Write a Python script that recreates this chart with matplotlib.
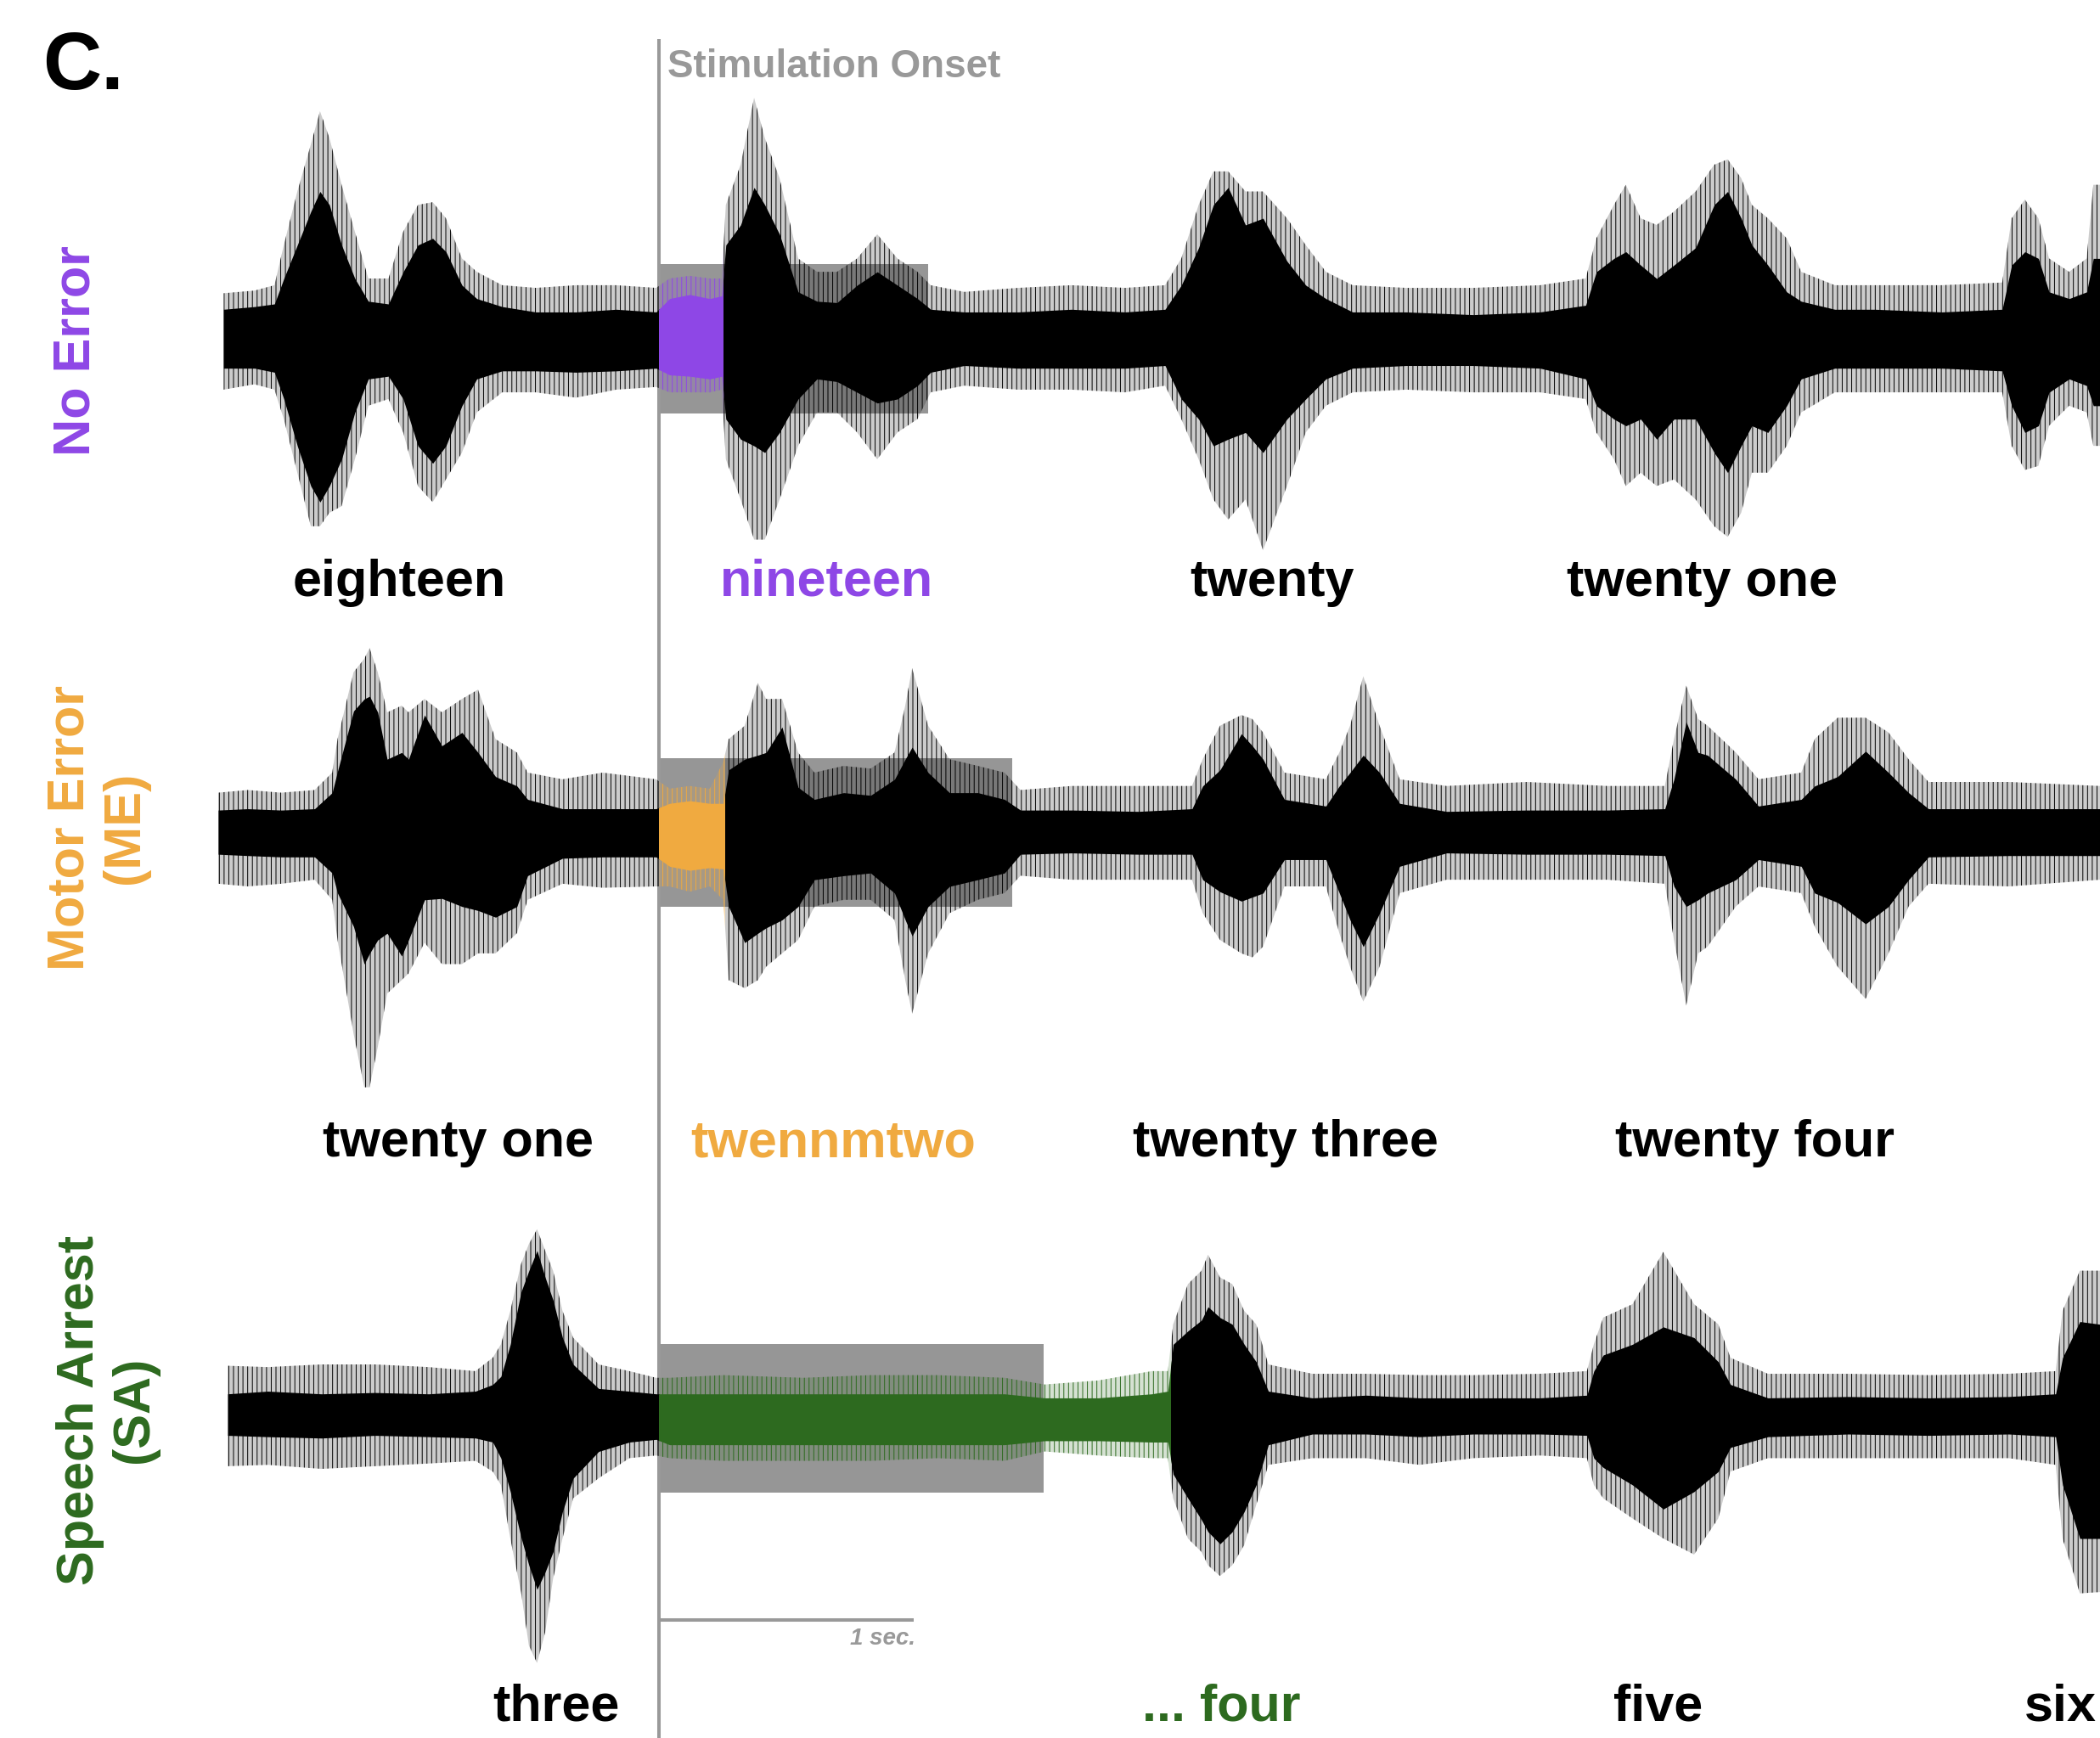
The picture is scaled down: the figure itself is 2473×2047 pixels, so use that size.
import matplotlib.pyplot as plt
from matplotlib.patches import Rectangle
from matplotlib.colors import to_rgba
import numpy as np

plt.rcParams['font.family'] = ['Liberation Sans', 'DejaVu Sans']
plt.rcParams['hatch.linewidth'] = 0.7

# ---- data: envelopes (time in s from stimulation onset,
# amplitude in a.u.; core = dense part, pk = thin peaks) ----

# No Error
ne_t = [-1.711, -1.589, -1.511, -1.474, -1.421, -1.368, -1.332, -1.295, -1.247, -1.195,
        -1.142, -1.063, -1.005, -0.947, -0.889, -0.837, -0.774, -0.716, -0.616, -0.484,
        -0.326, -0.168, -0.011, 0.042, 0.121, 0.200, 0.247, 0.263, 0.321, 0.374,
        0.416, 0.474, 0.547, 0.621, 0.700, 0.779, 0.858, 0.937, 1.016, 1.068,
        1.200, 1.411, 1.621, 1.832, 1.989, 2.053, 2.121, 2.179, 2.237, 2.305,
        2.374, 2.468, 2.542, 2.621, 2.726, 2.937, 3.200, 3.463, 3.642, 3.684,
        3.753, 3.800, 3.858, 3.921, 3.989, 4.074, 4.147, 4.200, 4.253, 4.295,
        4.358, 4.432, 4.489, 4.621, 4.779, 5.042, 5.279, 5.316, 5.368, 5.421,
        5.463, 5.542, 5.611, 5.637, 5.663]
ne_up = [.22, .24, .26, .45, .70, .95, 1.10, 1.00, .70, .45,
         .28, .26, .50, .70, .75, .65, .40, .30, .24, .20,
         .20, .22, .20, .30, .33, .30, .32, .70, .85, 1.13,
         1.00, .78, .35, .28, .27, .40, .50, .40, .30, .22,
         .20, .20, .22, .20, .22, .40, .68, 1.00, 1.13, .85,
         .90, .58, .40, .30, .20, .20, .18, .20, .25, .50,
         .60, .65, .55, .45, .55, .68, 1.00, 1.10, .90, .70,
         .55, .35, .28, .22, .22, .20, .22, .55, .65, .60,
         .35, .30, .35, .60, .60]
ne_dn = [.22, .22, .25, .45, .80, 1.10, 1.22, 1.10, .90, .55,
         .30, .28, .45, .80, .93, .80, .50, .30, .24, .24,
         .25, .24, .22, .27, .28, .30, .28, .60, .75, .80,
         .85, .70, .45, .30, .32, .40, .48, .45, .35, .25,
         .20, .22, .22, .22, .20, .45, .60, .80, .75, .70,
         .85, .60, .45, .30, .22, .20, .20, .22, .30, .50,
         .60, .65, .60, .75, .60, .60, .85, 1.00, .80, .65,
         .70, .50, .30, .22, .22, .22, .24, .50, .70, .65,
         .40, .30, .35, .50, .50]
ne_pk_up = [.34, .36, .40, .70, 1.10, 1.45, 1.70, 1.50, 1.15, .80,
            .45, .45, .80, 1.00, 1.02, .90, .60, .50, .40, .38,
            .40, .40, .38, .45, .47, .45, .45, 1.00, 1.30, 1.80,
            1.50, 1.20, .60, .50, .50, .60, .78, .60, .50, .40,
            .35, .38, .40, .38, .40, .60, 1.00, 1.25, 1.25, 1.10,
            1.10, .90, .70, .50, .40, .38, .38, .40, .45, .75,
            1.00, 1.15, .90, .85, .95, 1.10, 1.30, 1.34, 1.20, 1.00,
            .90, .75, .50, .40, .40, .40, .42, .90, 1.04, .90,
            .60, .50, .60, 1.15, 1.15]
ne_pk_dn = [.38, .34, .38, .60, 1.00, 1.40, 1.40, 1.30, 1.25, .90,
            .50, .45, .70, 1.10, 1.22, 1.05, .85, .55, .40, .40,
            .44, .38, .36, .40, .40, .40, .38, .90, 1.20, 1.50,
            1.50, 1.20, .80, .55, .55, .70, .90, .70, .60, .40,
            .35, .38, .38, .40, .35, .60, .90, 1.20, 1.35, 1.20,
            1.58, 1.10, .70, .50, .40, .38, .40, .40, .45, .70,
            .90, 1.10, 1.00, 1.10, 1.05, 1.20, 1.40, 1.48, 1.30, 1.00,
            1.00, .80, .55, .40, .40, .40, .40, .80, .98, .95,
            .65, .50, .55, .80, .80]

# Motor Error (ME)
me_t = [-1.732, -1.616, -1.484, -1.353, -1.284, -1.263, -1.200, -1.158, -1.137, -1.105,
        -1.068, -1.011, -0.984, -0.921, -0.853, -0.774, -0.711, -0.642, -0.558, -0.516,
        -0.379, -0.221, -0.011, 0.042, 0.121, 0.200, 0.253, 0.274, 0.337, 0.389,
        0.421, 0.484, 0.547, 0.611, 0.726, 0.832, 0.926, 0.968, 0.995, 1.058,
        1.142, 1.253, 1.358, 1.421, 1.621, 1.884, 2.095, 2.137, 2.205, 2.289,
        2.332, 2.374, 2.458, 2.621, 2.674, 2.716, 2.768, 2.832, 2.911, 3.095,
        3.411, 3.726, 3.953, 3.989, 4.037, 4.084, 4.121, 4.232, 4.321, 4.489,
        4.542, 4.632, 4.742, 4.832, 4.911, 4.989, 5.305, 5.663]
me_up = [.17, .18, .17, .18, .30, .46, .91, 1.00, 1.02, .90,
         .55, .60, .55, .88, .65, .75, .60, .42, .35, .25,
         .18, .18, .18, .22, .24, .22, .22, .47, .55, .58,
         .60, .79, .34, .25, .30, .28, .40, .55, .64, .45,
         .30, .30, .25, .17, .17, .16, .18, .35, .47, .74,
         .65, .55, .25, .20, .35, .45, .58, .45, .22, .16,
         .17, .17, .18, .40, .83, .60, .58, .40, .20, .25,
         .35, .42, .61, .45, .30, .18, .18, .18]
me_dn = [.16, .17, .18, .18, .30, .45, .70, .98, .90, .80,
         .75, .92, .80, .50, .49, .55, .58, .63, .55, .32,
         .19, .18, .18, .25, .28, .26, .27, .55, .82, .75,
         .71, .65, .55, .35, .32, .30, .45, .65, .77, .55,
         .40, .35, .30, .16, .15, .16, .16, .35, .44, .51,
         .48, .45, .20, .20, .45, .65, .85, .60, .25, .15,
         .16, .16, .17, .40, .55, .50, .45, .35, .20, .25,
         .45, .52, .68, .55, .35, .18, .17, .17]
me_pk_up = [.30, .32, .30, .32, .45, .70, 1.20, 1.30, 1.38, 1.20,
            .90, .95, .90, 1.00, .90, 1.00, 1.07, .70, .60, .45,
            .40, .45, .40, .33, .35, .33, .53, .70, .80, 1.12,
            1.00, 1.00, .60, .45, .50, .48, .60, .95, 1.23, .80,
            .55, .50, .45, .32, .35, .35, .35, .55, .80, .88,
            .85, .75, .45, .40, .60, .80, 1.17, .80, .40, .35,
            .38, .35, .35, .70, 1.10, .85, .80, .60, .40, .45,
            .70, .86, .86, .75, .55, .38, .38, .35]
me_pk_dn = [.38, .40, .38, .35, .50, .80, 1.50, 1.90, 1.90, 1.60,
            1.20, 1.10, 1.05, .82, .98, .98, .90, .90, .75, .50,
            .38, .41, .40, .40, .44, .40, .50, 1.10, 1.16, 1.10,
            1.00, .90, .80, .55, .50, .50, .65, 1.10, 1.35, .90,
            .60, .50, .45, .32, .35, .35, .35, .60, .80, .90,
            .93, .85, .40, .40, .75, 1.00, 1.26, 1.00, .45, .35,
            .35, .35, .38, .80, 1.29, .90, .85, .55, .40, .45,
            .70, 1.00, 1.24, .90, .55, .38, .40, .35]

# Speech Arrest (SA)
sa_t = [-1.695, -1.537, -1.326, -1.116, -0.905, -0.721, -0.653, -0.621, -0.584, -0.542,
        -0.511, -0.479, -0.447, -0.416, -0.379, -0.337, -0.237, -0.116, -0.011, 0.042,
        0.253, 0.568, 0.832, 1.095, 1.358, 1.516, 1.726, 1.937, 2.000, 2.021,
        2.079, 2.132, 2.158, 2.205, 2.253, 2.300, 2.347, 2.395, 2.568, 2.779,
        2.989, 3.200, 3.463, 3.647, 3.674, 3.711, 3.826, 3.947, 4.068, 4.163,
        4.211, 4.358, 4.674, 4.989, 5.305, 5.489, 5.516, 5.584, 5.663]
sa_up = [.18, .20, .18, .19, .18, .20, .25, .31, .55, .94,
         1.10, 1.25, 1.05, .88, .60, .40, .22, .20, .18, .18,
         .18, .18, .18, .18, .18, .15, .15, .18, .20, .55,
         .65, .73, .83, .75, .70, .55, .42, .20, .15, .17,
         .15, .15, .15, .17, .35, .47, .55, .68, .60, .42,
         .25, .15, .16, .15, .16, .18, .45, .72, .70]
sa_dn = [.13, .14, .15, .13, .14, .15, .18, .30, .55, .89,
         1.10, 1.28, 1.15, 1.00, .70, .45, .25, .18, .16, .20,
         .20, .20, .20, .20, .20, .17, .17, .18, .18, .42,
         .60, .76, .85, .94, .85, .70, .50, .20, .12, .12,
         .14, .12, .12, .13, .30, .37, .50, .68, .55, .40,
         .22, .14, .12, .13, .12, .14, .50, .90, .90]
sa_pk_up = [.39, .38, .40, .40, .38, .35, .45, .55, .80, 1.15,
            1.30, 1.41, 1.25, 1.10, .80, .60, .40, .35, .30, .30,
            .32, .30, .32, .32, .30, .25, .28, .35, .35, .70,
            1.00, 1.10, 1.22, 1.05, 1.00, .80, .70, .40, .33, .33,
            .32, .32, .33, .35, .55, .75, .85, 1.24, .85, .70,
            .45, .33, .33, .32, .33, .35, .80, 1.10, 1.10]
sa_pk_dn = [.36, .35, .38, .36, .34, .32, .40, .50, .90, 1.30,
            1.70, 1.83, 1.60, 1.20, .90, .60, .45, .30, .28, .30,
            .32, .32, .32, .30, .32, .25, .28, .30, .30, .60,
            .90, 1.00, 1.10, 1.18, 1.10, .95, .65, .35, .30, .30,
            .35, .30, .28, .30, .50, .60, .75, .90, 1.02, .75,
            .40, .30, .30, .30, .30, .35, .90, 1.31, 1.30]

row_labels = ['No Error', 'Motor Error\n(ME)', 'Speech Arrest\n(SA)']
row_colors = ['#8e47e6', '#f0aa40', '#2d6a1f']
stim_end = [0.255, 0.259, 2.011]        # coloured (during stimulation) part
box_end = [1.058, 1.389, 1.513]         # grey stimulation box
words = [['eighteen', 'nineteen', 'twenty', 'twenty one'],
         ['twenty one', 'twennmtwo', 'twenty three', 'twenty four'],
         ['three', '... four', 'five', 'six']]
word_colored = [1, 1, 1]

traces = [(ne_t, ne_up, ne_dn, ne_pk_up, ne_pk_dn),
          (me_t, me_up, me_dn, me_pk_up, me_pk_dn),
          (sa_t, sa_up, sa_dn, sa_pk_up, sa_pk_dn)]

# ---- layout ----
XMIN, XMAX = -2.5895, 5.6632
baselines = [2.53, 6.22, 10.59]
word_x = [[-1.021, 0.658, 2.411, 4.100],
          [-0.789, 0.684, 2.463, 4.305],
          [-0.405, 2.211, 3.926, 5.650]]
word_ha = [['center'] * 4, ['center'] * 4, ['center', 'center', 'center', 'right']]
word_y = [4.35, 8.54, 12.75]
label_x = [-2.290, -2.205, -2.168]
label_y = [2.62, 6.18, 10.53]
GREY = '#999999'

fig = plt.figure(figsize=(24.73, 20.47), dpi=100)
ax = fig.add_axes([0, 0, 1, 1])
ax.set_xlim(XMIN, XMAX)
ax.set_ylim(12.98, 0)
ax.axis('off')


def draw_part(base, t, up, dn, pk_up, pk_dn, color, x0, x1):
    t = np.array(t)
    clip = Rectangle((x0, base - 3), x1 - x0, 6, transform=ax.transData)
    pk = ax.fill_between(t, base - np.array(pk_up), base + np.array(pk_dn),
                         facecolor=to_rgba(color, 0.2), edgecolor=color,
                         hatch='|||', linewidth=0, zorder=3)
    pk.set_clip_path(clip)
    core = ax.fill_between(t, base - np.array(up), base + np.array(dn),
                           color=color, linewidth=0, zorder=4)
    core.set_clip_path(clip)


for i in range(3):
    base = baselines[i]
    t, up, dn, pk_up, pk_dn = traces[i]
    ax.add_patch(Rectangle((0, base - 0.555), box_end[i], 1.11,
                           facecolor='#969696', edgecolor='none', zorder=1))
    draw_part(base, t, up, dn, pk_up, pk_dn, 'black', XMIN, 0)
    draw_part(base, t, up, dn, pk_up, pk_dn, row_colors[i], 0, stim_end[i])
    draw_part(base, t, up, dn, pk_up, pk_dn, 'black', stim_end[i], XMAX)

    ax.text(label_x[i], label_y[i], row_labels[i], rotation=90, ha='center', va='center',
            multialignment='center', fontsize=44, fontweight='bold', color=row_colors[i],
            linespacing=1.15)
    for j, w in enumerate(words[i]):
        c = row_colors[i] if j == word_colored[i] else 'black'
        ax.text(word_x[i][j], word_y[i], w, ha=word_ha[i][j], va='center', fontsize=44,
                fontweight='bold', color=c)

# stimulation onset line and label
ax.plot([0, 0], [0.29, 12.98], color=GREY, lw=2.9, zorder=2, solid_capstyle='butt')
ax.text(0.032, 0.50, 'Stimulation Onset', ha='left', va='center', fontsize=33,
        fontweight='bold', color=GREY)

# 1 s scale bar
ax.plot([0, 1], [12.10, 12.10], color=GREY, lw=2.9, zorder=2, solid_capstyle='butt')
ax.text(1.008, 12.24, '1 sec.', ha='right', va='center', fontsize=20,
        fontweight='bold', fontstyle='italic', color=GREY)

ax.text(-2.421, 0.51, 'C.', ha='left', va='center', fontsize=69, fontweight='bold')

fig.savefig('out.png', dpi=100)
